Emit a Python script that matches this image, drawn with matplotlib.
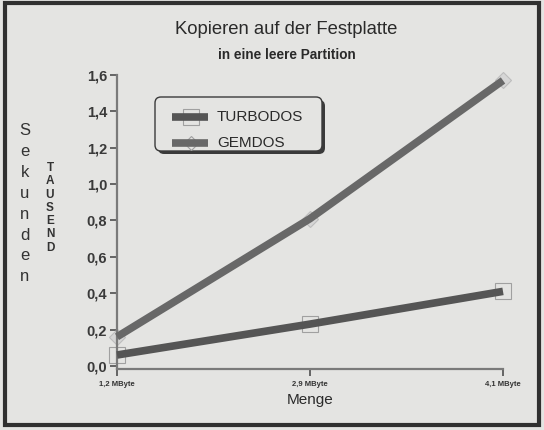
import matplotlib
matplotlib.use("Agg")
import matplotlib.pyplot as plt
from matplotlib.patches import Rectangle, FancyBboxPatch
from matplotlib.lines import Line2D

plt.rcParams['font.family'] = ['Liberation Sans', 'DejaVu Sans']

# Data
mengen = ["1,2 MByte", "2,9 MByte", "4,1 MByte"]
turbodos = [0.06, 0.23, 0.41]
gemdos = [0.16, 0.81, 1.57]
y_ticks = [0.0, 0.2, 0.4, 0.6, 0.8, 1.0, 1.2, 1.4, 1.6]
y_tick_labels = ["0,0", "0,2", "0,4", "0,6", "0,8", "1,0", "1,2", "1,4", "1,6"]

W, H = 544, 430
bg = "#e4e4e2"
fig = plt.figure(figsize=(W / 100, H / 100), dpi=100, facecolor=bg)

# axes placement in pixels
x0, x1 = 117, 503
y_top, y_bot = 75, 369
ax = fig.add_axes([x0 / W, (H - y_bot) / H, (x1 - x0) / W, (y_bot - y_top) / H])
ax.set_facecolor(bg)

xs = list(range(len(mengen)))
c_turbo = "#555555"
c_gem = "#686868"
lw = 5.5

# markers under the thick lines
ax.plot(xs, turbodos, linestyle="none", marker="s", markersize=12,
        markerfacecolor="none", markeredgecolor="#a0a0a0", markeredgewidth=0.8,
        zorder=2, clip_on=False)
ax.plot(xs, gemdos, linestyle="none", marker="D", markersize=8,
        markerfacecolor="#d6d6d6", markeredgecolor="#bdbdbd", markeredgewidth=0.8,
        zorder=2, clip_on=False)
ax.plot(xs, turbodos, color=c_turbo, linewidth=lw, solid_capstyle="butt",
        zorder=3, clip_on=False)
ax.plot(xs, gemdos, color=c_gem, linewidth=lw, solid_capstyle="butt",
        zorder=3, clip_on=False)

ax.set_xlim(0, 2)
ax.set_ylim(-0.017, 1.6)
ax.set_xticks(xs)
ax.set_xticklabels(mengen, fontsize=5.5, fontweight="bold", color="#333333")
ax.set_yticks(y_ticks)
ax.set_yticklabels(y_tick_labels, fontsize=10.5, fontweight="bold", color="#3a3a3a")

for s in ["top", "right"]:
    ax.spines[s].set_visible(False)
for s in ["left", "bottom"]:
    ax.spines[s].set_color("#7a7a7a")
    ax.spines[s].set_linewidth(1.6)
ax.tick_params(axis="both", direction="out", length=5, width=1.3, color="#5a5a5a")
ax.tick_params(axis="x", pad=4)
ax.tick_params(axis="y", pad=2)
ax.set_xlabel("Menge", fontsize=11, color="#2a2a2a", labelpad=3)

# titles
fig.text(286 / W, 1 - 29 / H, "Kopieren auf der Festplatte", ha="center", va="center",
         fontsize=13.3, color="#2a2a2a")
fig.text(287 / W, 1 - 55 / H, "in eine leere Partition", ha="center", va="center",
         fontsize=9.8, fontweight="bold", color="#2a2a2a")

# stacked vertical axis captions
for i, ch in enumerate("Sekunden"):
    fig.text(25 / W, 1 - (131 + i * 20.8) / H, ch, ha="center", va="center",
             fontsize=12, color="#333333")
for i, ch in enumerate("TAUSEND"):
    fig.text(50 / W, 1 - (168 + i * 13.3) / H, ch, ha="center", va="center",
             fontsize=8.5, fontweight="bold", color="#333333")

# legend box with drop shadow
lx0, ly0, lx1, ly1 = 155, 97, 322, 151
shadow = FancyBboxPatch((lx0 + 3, H - ly1 - 3), lx1 - lx0, ly1 - ly0,
                        boxstyle="round,pad=0,rounding_size=6",
                        transform=None, facecolor="#3a3a3a", edgecolor="none")
box = FancyBboxPatch((lx0, H - ly1), lx1 - lx0, ly1 - ly0,
                     boxstyle="round,pad=0,rounding_size=6",
                     transform=None, facecolor=bg, edgecolor="#3a3a3a", linewidth=1.0)
fig.patches.extend([shadow, box])

for yy, col, mk, name in [(117, c_turbo, "s", "TURBODOS"), (143, c_gem, "D", "GEMDOS")]:
    fig.add_artist(Line2D([172, 208], [H - yy, H - yy], transform=None,
                          color=col, linewidth=lw, solid_capstyle="butt", zorder=4))
    fig.add_artist(Line2D([190.5], [H - yy], transform=None, marker=mk,
                          markersize=11 if mk == "s" else 7, markerfacecolor="none",
                          markeredgecolor="#a0a0a0", markeredgewidth=0.8, zorder=3))
    fig.text(217 / W, 1 - yy / H, name, ha="left", va="center", fontsize=11,
             color="#2a2a2a")

# outer frame
fig.patches.append(Rectangle((5, H - 425), 534, 422, transform=None,
                             facecolor="none", edgecolor="#303030", linewidth=3))

fig.savefig("out.png", dpi=100, facecolor=bg)
